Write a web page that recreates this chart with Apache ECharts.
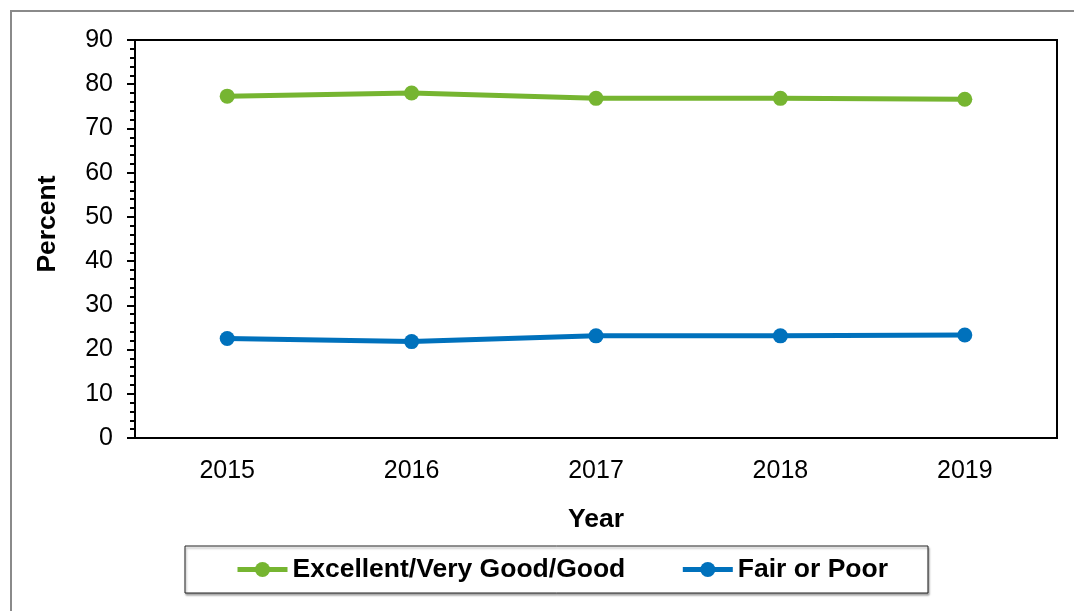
<!DOCTYPE html>
<html>
<head>
<meta charset="utf-8">
<style>
  html, body { margin: 0; padding: 0; background: #fff; }
  #chart { width: 1074px; height: 611px; }
</style>
<script src="https://cdn.jsdelivr.net/npm/echarts@6/dist/echarts.min.js"></script>
</head>
<body>
<div id="chart"></div>
<script>
// values
const years = ["2015", "2016", "2017", "2018", "2019"];
const excellentGood = [77.3, 78.0, 76.8, 76.8, 76.6];
const fairPoor = [22.5, 21.8, 23.1, 23.1, 23.3];

const FONT = "Liberation Sans, Arial, sans-serif";
const GREEN = "#76b531";
const BLUE = "#0071bc";

const chart = echarts.init(document.getElementById("chart"));

function lineSeries(name, data, color) {
  return {
    name, type: "line", data,
    symbol: "circle", symbolSize: 15,
    lineStyle: { color, width: 5 },
    itemStyle: { color },
    emphasis: { disabled: true }
  };
}

const titleText = { fontFamily: FONT, fontSize: 26.5, fontWeight: "bold", color: "#000" };

chart.setOption({
  animation: false,
  textStyle: { fontFamily: FONT },
  graphic: [{
    type: "rect", z: 100, silent: true,
    shape: { x: 11, y: 11, width: 1200, height: 800 },
    style: { fill: "none", stroke: "#8a8a8a", lineWidth: 2 }
  }],
  grid: {
    left: 135, right: 17, top: 40, bottom: 173,
    show: true, borderColor: "#000", borderWidth: 2, backgroundColor: "transparent"
  },
  legend: {
    left: 185, top: 546,
    padding: [10, 40, 10, 50],
    itemGap: 55, itemWidth: 50, itemHeight: 19,
    borderColor: "#222", borderWidth: 1,
    shadowColor: "rgba(0,0,0,0.35)", shadowOffsetX: 1, shadowOffsetY: 2, shadowBlur: 2,
    backgroundColor: "#fff",
    lineStyle: { width: 5 },
    textStyle: titleText,
    data: ["Excellent/Very Good/Good", "Fair or Poor"]
  },
  xAxis: {
    type: "category", data: years, boundaryGap: true,
    name: "Year", nameLocation: "middle", nameGap: 68,
    nameTextStyle: titleText,
    axisLine: { lineStyle: { color: "#000", width: 2 } },
    axisTick: { alignWithLabel: true, length: 7, lineStyle: { color: "#000", width: 2 } },
    axisLabel: { fontFamily: FONT, fontSize: 25, color: "#000", margin: 21 },
    splitLine: { show: false }
  },
  yAxis: {
    type: "value", min: 0, max: 90, interval: 10,
    name: "Percent", nameLocation: "middle", nameGap: 74, nameRotate: 90,
    nameTextStyle: Object.assign({ padding: [0, 0, 0, 30] }, titleText),
    axisLine: { show: true, lineStyle: { color: "#000", width: 2 } },
    axisTick: { show: true, length: 8, lineStyle: { color: "#000", width: 2 } },
    minorTick: { show: true, splitNumber: 5, length: 5, lineStyle: { color: "#000", width: 2 } },
    axisLabel: { fontFamily: FONT, fontSize: 25, color: "#000", margin: 22 },
    splitLine: { show: false }
  },
  series: [
    lineSeries("Excellent/Very Good/Good", excellentGood, GREEN),
    lineSeries("Fair or Poor", fairPoor, BLUE)
  ]
});
</script>
</body>
</html>
